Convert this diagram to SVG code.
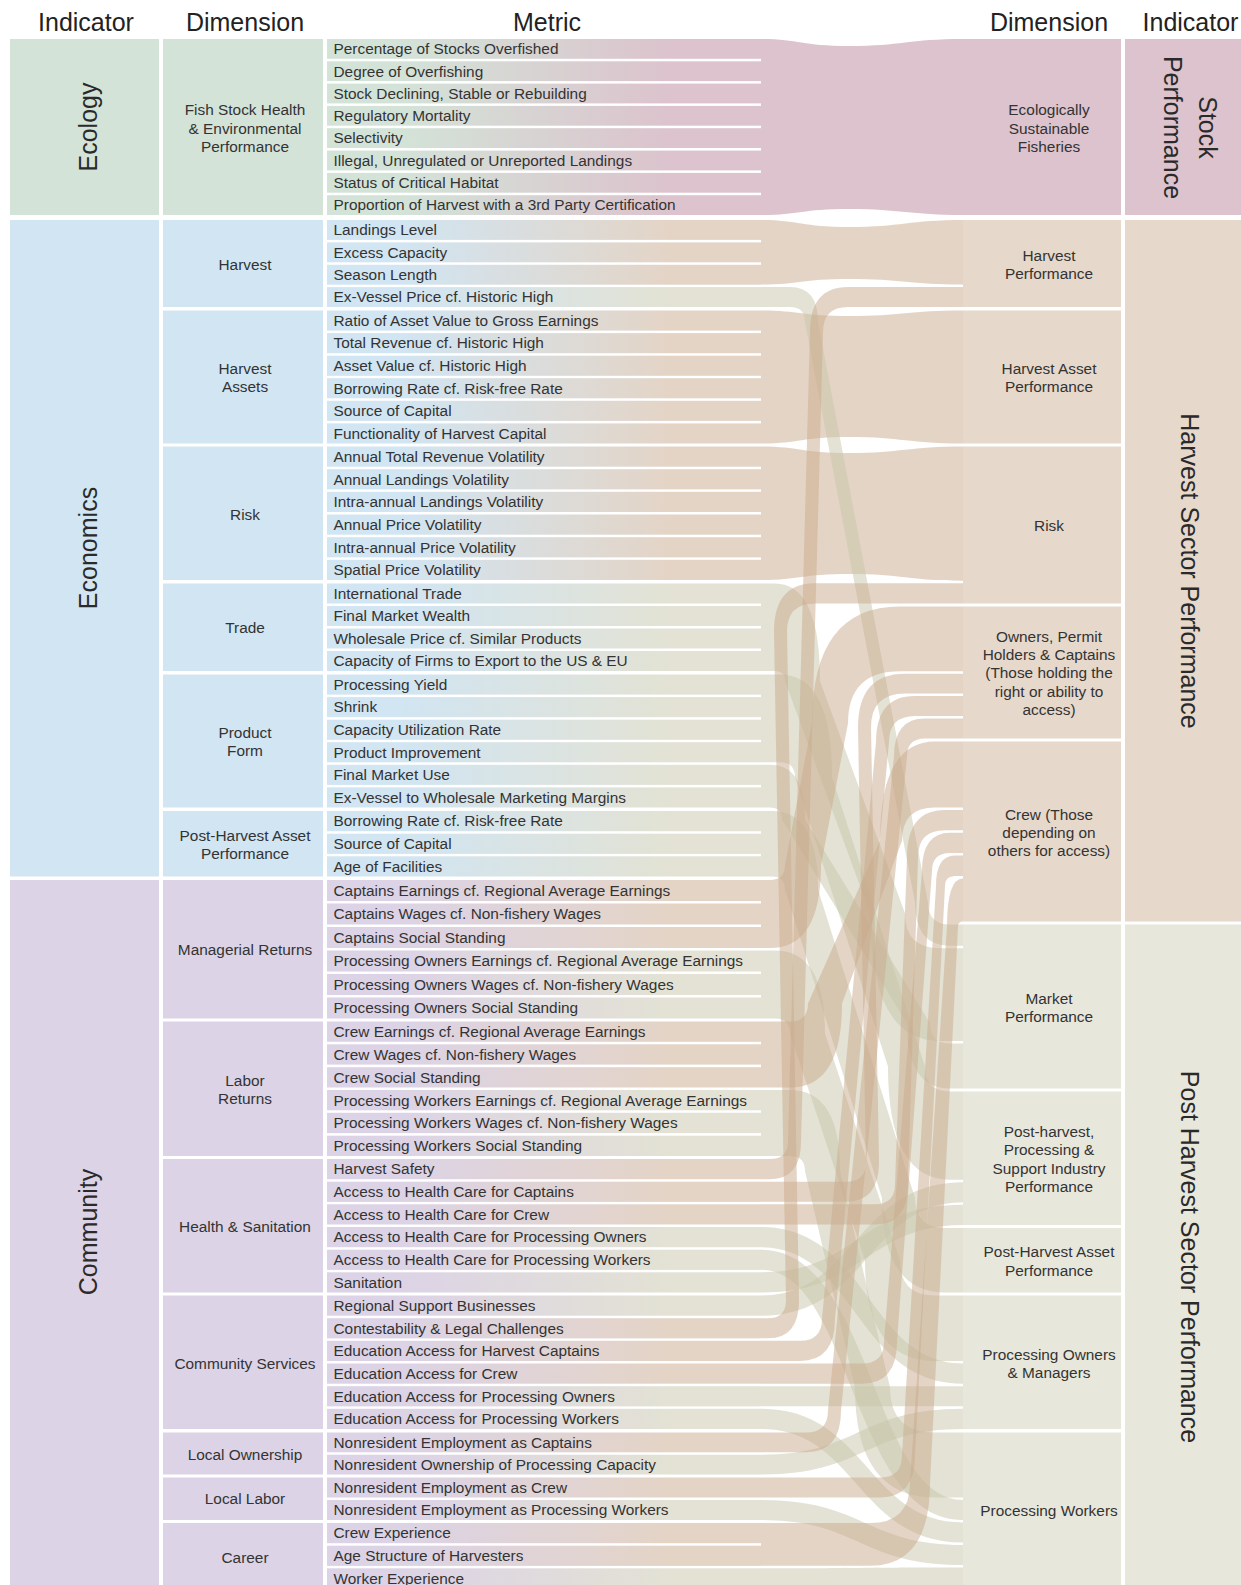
<svg xmlns="http://www.w3.org/2000/svg" width="1241" height="1585" viewBox="0 0 1241 1585">
<defs>
<linearGradient id="gEP" gradientUnits="userSpaceOnUse" x1="400" y1="0" x2="670" y2="0"><stop offset="0" stop-color="#d3e3d8"/><stop offset="1" stop-color="#dcc3cd"/></linearGradient>
<linearGradient id="gBT" gradientUnits="userSpaceOnUse" x1="400" y1="0" x2="670" y2="0"><stop offset="0" stop-color="#d1e5f2"/><stop offset="1" stop-color="#e4d4c6"/></linearGradient>
<linearGradient id="gBO" gradientUnits="userSpaceOnUse" x1="400" y1="0" x2="670" y2="0"><stop offset="0" stop-color="#d1e5f2"/><stop offset="1" stop-color="#e3e2d4"/></linearGradient>
<linearGradient id="gPT" gradientUnits="userSpaceOnUse" x1="400" y1="0" x2="670" y2="0"><stop offset="0" stop-color="#dcd3e6"/><stop offset="1" stop-color="#e4d4c6"/></linearGradient>
<linearGradient id="gPO" gradientUnits="userSpaceOnUse" x1="400" y1="0" x2="670" y2="0"><stop offset="0" stop-color="#dcd3e6"/><stop offset="1" stop-color="#e3e2d4"/></linearGradient>
</defs>
<style>
text{font-family:"Liberation Sans",Arial,sans-serif;fill:#333}
.m{font-size:15.4px}
.d{font-size:15.4px;text-anchor:middle}
.h{font-size:25px;text-anchor:middle;fill:#222}
.v{font-size:25px;text-anchor:middle;fill:#2a2a2a}
.cG{fill:#d3e3d8}.cB{fill:#d1e5f2}.cP{fill:#dcd3e6}
.cK{fill:#dcc3cd}.cT{fill:#e6d8ca}.cO{fill:#e8e7dc}
.fT{fill:#c9a98c;fill-opacity:.5}.fO{fill:#c7c5aa;fill-opacity:.5}
</style>
<rect width="1241" height="1585" fill="#fff"/>

<g id="headers">
<text class="h" x="86" y="30.5">Indicator</text>
<text class="h" x="245" y="30.5">Dimension</text>
<text class="h" x="547" y="30.5">Metric</text>
<text class="h" x="1049" y="30.5">Dimension</text>
<text class="h" x="1190.5" y="30.5">Indicator</text>
</g>

<g id="ind-ecology"><rect class="cG" x="10" y="39" width="149" height="176"/><text class="v" transform="translate(96.5,127) rotate(-90)">Ecology</text></g>
<g id="ind-economics"><rect class="cB" x="10" y="220" width="149" height="656.5"/><text class="v" transform="translate(96.5,548) rotate(-90)">Economics</text></g>
<g id="ind-community"><rect class="cP" x="10" y="880" width="149" height="710"/><text class="v" transform="translate(96.5,1232) rotate(-90)">Community</text></g>

<g id="dim-fish"><rect class="cG" x="163" y="39" width="160" height="176"/><text class="d" x="245" y="115.3">Fish Stock Health</text><text class="d" x="245" y="133.6">&amp; Environmental</text><text class="d" x="245" y="151.8">Performance</text></g>
<g id="dim-harvest"><rect class="cB" x="163" y="220" width="160" height="87"/><text class="d" x="245" y="270.1">Harvest</text></g>
<g id="dim-harvest-assets"><rect class="cB" x="163" y="310.5" width="160" height="133"/><text class="d" x="245" y="374.2">Harvest</text><text class="d" x="245" y="392.3">Assets</text></g>
<g id="dim-risk"><rect class="cB" x="163" y="446.5" width="160" height="133.5"/><text class="d" x="245" y="519.7">Risk</text></g>
<g id="dim-trade"><rect class="cB" x="163" y="583.5" width="160" height="87.5"/><text class="d" x="245" y="632.9">Trade</text></g>
<g id="dim-product-form"><rect class="cB" x="163" y="674.5" width="160" height="133"/><text class="d" x="245" y="738">Product</text><text class="d" x="245" y="756.2">Form</text></g>
<g id="dim-post-harvest-asset"><rect class="cB" x="163" y="811" width="160" height="65.5"/><text class="d" x="245" y="841.1">Post-Harvest Asset</text><text class="d" x="245" y="859.3">Performance</text></g>
<g id="dim-managerial"><rect class="cP" x="163" y="880" width="160" height="138.5"/><text class="d" x="245" y="955.3">Managerial Returns</text></g>
<g id="dim-labor"><rect class="cP" x="163" y="1021.5" width="160" height="134.5"/><text class="d" x="245" y="1085.6">Labor</text><text class="d" x="245" y="1103.8">Returns</text></g>
<g id="dim-health"><rect class="cP" x="163" y="1159" width="160" height="133.5"/><text class="d" x="245" y="1232.2">Health &amp; Sanitation</text></g>
<g id="dim-community-services"><rect class="cP" x="163" y="1295.5" width="160" height="133.5"/><text class="d" x="245" y="1368.6">Community Services</text></g>
<g id="dim-local-ownership"><rect class="cP" x="163" y="1432.5" width="160" height="42"/><text class="d" x="245" y="1459.6">Local Ownership</text></g>
<g id="dim-local-labor"><rect class="cP" x="163" y="1477.5" width="160" height="42.5"/><text class="d" x="245" y="1504">Local Labor</text></g>
<g id="dim-career"><rect class="cP" x="163" y="1523" width="160" height="70"/><text class="d" x="245" y="1563">Career</text></g>

<g id="flows">
<g id="flows-straight">
<path class="cK" d="M761 39 C800 39 800 46 850 46 C900 46 910 39 963 39 V215 C910 215 900 209 850 209 C800 209 800 215 761 215 Z"/>
<path class="fT" d="M761 220 C800 220 800 227 850 227 C900 227 910 220 963 220 V284.6 C910 284.6 900 279 850 279 C800 279 800 284.6 761 284.6 Z"/>
<path class="fT" d="M761 310.5 C800 310.5 800 316 850 316 C900 316 910 310.5 963 310.5 V443.5 C910 443.5 900 437 850 437 C800 437 800 443.5 761 443.5 Z"/>
<path class="fT" d="M761 446.5 C800 446.5 800 453 850 453 C900 453 910 446.5 963 446.5 V580.7 C910 580.7 900 574 850 574 C800 574 800 580 761 580 Z"/>
<path class="fO" d="M761 1386.2 H963 V1406.3 H761 Z"/>
<path class="fO" d="M761 1568.3 C860 1568.3 860 1567.5 963 1567.5 V1587.5 H761 Z"/>
</g>
<g id="flows-olive">
<path class="fO" d="M761 287.1 H790 Q818 287.1 818 322 L928 902.5 Q928 924.5 950 924.5 H963 V945.8 H950 Q915 945.8 915 902.5 L805 322 Q805 307 790 307 H761 Z"/>
<path class="fO" d="M761 583.5 H775 Q820 583.5 820 681 L905 913.3 Q905 948.3 940 948.3 H963 V1041 H940 Q870 1041 870 913.3 L785 681 Q785 671 775 671 H761 Z"/>
<path class="fO" d="M761 674.5 H780 Q832 674.5 832 777.3 L925 1066.5 Q925 1091.5 950 1091.5 H963 V1179.7 H950 Q888 1179.7 888 1066.5 L795 777.3 Q795 762.3 780 762.3 H761 Z"/>
<path class="fO" d="M761 764.8 H770 Q805 764.8 805 819.5 L930 1023.4 Q930 1043.4 950 1043.4 H963 V1088.5 H950 Q907 1088.5 907 1023.4 L782 819.5 Q782 807.5 770 807.5 H761 Z"/>
<path class="fO" d="M761 811 H772 Q818 811 818 889.5 L915 1198 Q915 1228 945 1228 H963 V1292.5 H945 Q882 1292.5 882 1198 L785 889.5 Q785 876.5 772 876.5 H761 Z"/>
<path class="fO" d="M761 950.5 H775 Q825 950.5 825 1033.5 L900 1260.5 Q900 1295.5 935 1295.5 H963 V1361 H935 Q865 1361 865 1260.5 L790 1033.5 Q790 1018.5 775 1018.5 H761 Z"/>
<path class="fO" d="M761 1090 H790 Q840 1090 840 1171 L890 1387.5 Q890 1432.5 935 1432.5 H963 V1497.5 H935 Q855 1497.5 855 1387.5 L805 1171 Q805 1156 790 1156 H761 Z"/>
<path class="fO" d="M761 1227 C868 1227 868 1363.5 963 1363.5 V1383.7 C856 1383.7 856 1247.2 761 1247.2 Z"/>
<path class="fO" d="M761 1249.7 C872 1249.7 872 1500 963 1500 V1520 C852 1520 852 1269.8 761 1269.8 Z"/>
<path class="fO" d="M761 1295.5 C856 1295.5 856 1182.2 963 1182.2 V1202.3 C868 1202.3 868 1315.7 761 1315.7 Z"/>
<path class="fO" d="M761 1272.3 C858 1272.3 858 1204.8 963 1204.8 V1225 C866 1225 866 1292.5 761 1292.5 Z"/>
<path class="fO" d="M761 1408.8 C867 1408.8 867 1522.5 963 1522.5 V1542.5 C857 1542.5 857 1429 761 1429 Z"/>
<path class="fO" d="M761 1454.75 C859 1454.75 859 1408.8 963 1408.8 V1429 C865 1429 865 1474.5 761 1474.5 Z"/>
<path class="fO" d="M761 1500 C865 1500 865 1545 963 1545 V1565 C859 1565 859 1520 761 1520 Z"/>
</g>
<g id="flows-tan">
<path class="fT" d="M761 1159 H770 Q788 1159 788 1141 L810 332 Q810 287.1 848 287.1 H963 V307 H848 Q823 307 823 332 L801 1141 Q801 1179.2 770 1179.2 H761 Z"/>
<path class="fT" d="M761 1318.2 H768 Q786 1318.2 786 1300.2 L774 631.5 Q774 583.2 815 583.2 H963 V603.5 H815 Q787 603.5 787 631.5 L799 1300.2 Q799 1338.3 768 1338.3 H761 Z"/>
<path class="fT" d="M761 880 H770 Q785 880 785 865 L812 723.2 Q812 606.5 900 606.5 H963 V671.2 H900 Q848 671.2 848 723.2 L821 865 Q821 948 770 948 H761 Z"/>
<path class="fT" d="M761 1021.5 H790 Q808 1021.5 808 1003.5 L880 840.4 Q880 741.5 935 741.5 H963 V807.4 H935 Q902 807.4 902 840.4 L842 1003.5 Q842 1087.5 790 1087.5 H761 Z"/>
<path class="fT" d="M761 1181.7 H846 Q866 1181.7 866 1161.7 L858 727.6 Q858 673.7 905 673.7 H963 V693.6 H905 Q871 693.6 871 727.6 L879 1161.7 Q879 1201.8 846 1201.8 H761 Z"/>
<path class="fT" d="M761 1340.8 H800 Q822 1340.8 822 1318.8 L876 742 Q876 696.1 915 696.1 H963 V716 H915 Q889 716 889 742 L835 1318.8 Q835 1361 800 1361 H761 Z"/>
<path class="fT" d="M761 1432.5 H806 Q828 1432.5 828 1410.5 L894 756.4 Q894 718.5 925 718.5 H963 V738.4 H925 Q907 738.4 907 756.4 L841 1410.5 Q841 1452.25 806 1452.25 H761 Z"/>
<path class="fT" d="M761 1204.3 H875 Q895 1204.3 895 1184.3 L907 857.2 Q907 809.9 945 809.9 H963 V830.2 H945 Q918 830.2 918 857.2 L908 1184.3 Q908 1224.5 875 1224.5 H761 Z"/>
<path class="fT" d="M761 1363.5 H862 Q884 1363.5 884 1341.5 L922 871.1 Q922 832.8 950 832.8 H963 V853.1 H950 Q932 853.1 932 871.1 L897 1341.5 Q897 1383.7 862 1383.7 H761 Z"/>
<path class="fT" d="M761 1477.5 H880 Q902 1477.5 902 1455.5 L936 885.9 Q936 855.6 955 855.6 H963 V875.9 H955 Q945 875.9 945 885.9 L915 1455.5 Q915 1497.5 880 1497.5 H761 Z"/>
<path class="fT" d="M761 1523 H870 Q910 1523 910 1483 L947 926.5 Q947 878.4 963 878.4 V921.5 Q958 921.5 958 926.5 L930 1483 Q930 1565.8 870 1565.8 H761 Z"/>
</g>
</g>

<g id="metrics">
<g id="m01"><rect x="327" y="39" width="434" height="19.8" fill="url(#gEP)"/><text class="m" x="333.5" y="54.2">Percentage of Stocks Overfished</text></g>
<g id="m02"><rect x="327" y="61.3" width="434" height="19.8" fill="url(#gEP)"/><text class="m" x="333.5" y="76.5">Degree of Overfishing</text></g>
<g id="m03"><rect x="327" y="83.6" width="434" height="19.8" fill="url(#gEP)"/><text class="m" x="333.5" y="98.8">Stock Declining, Stable or Rebuilding</text></g>
<g id="m04"><rect x="327" y="105.9" width="434" height="19.8" fill="url(#gEP)"/><text class="m" x="333.5" y="121.1">Regulatory Mortality</text></g>
<g id="m05"><rect x="327" y="128.2" width="434" height="19.8" fill="url(#gEP)"/><text class="m" x="333.5" y="143.4">Selectivity</text></g>
<g id="m06"><rect x="327" y="150.6" width="434" height="19.8" fill="url(#gEP)"/><text class="m" x="333.5" y="165.8">Illegal, Unregulated or Unreported Landings</text></g>
<g id="m07"><rect x="327" y="172.9" width="434" height="19.8" fill="url(#gEP)"/><text class="m" x="333.5" y="188.1">Status of Critical Habitat</text></g>
<g id="m08"><rect x="327" y="195.2" width="434" height="19.8" fill="url(#gEP)"/><text class="m" x="333.5" y="210.4">Proportion of Harvest with a 3rd Party Certification</text></g>
<g id="m09"><rect x="327" y="220" width="434" height="19.9" fill="url(#gBT)"/><text class="m" x="333.5" y="235.2">Landings Level</text></g>
<g id="m10"><rect x="327" y="242.4" width="434" height="19.9" fill="url(#gBT)"/><text class="m" x="333.5" y="257.6">Excess Capacity</text></g>
<g id="m11"><rect x="327" y="264.8" width="434" height="19.9" fill="url(#gBT)"/><text class="m" x="333.5" y="280">Season Length</text></g>
<g id="m12"><rect x="327" y="287.1" width="434" height="19.9" fill="url(#gBO)"/><text class="m" x="333.5" y="302.3">Ex-Vessel Price cf. Historic High</text></g>
<g id="m13"><rect x="327" y="310.5" width="434" height="20.1" fill="url(#gBT)"/><text class="m" x="333.5" y="325.8">Ratio of Asset Value to Gross Earnings</text></g>
<g id="m14"><rect x="327" y="333.1" width="434" height="20.1" fill="url(#gBT)"/><text class="m" x="333.5" y="348.4">Total Revenue cf. Historic High</text></g>
<g id="m15"><rect x="327" y="355.7" width="434" height="20.1" fill="url(#gBT)"/><text class="m" x="333.5" y="371">Asset Value cf. Historic High</text></g>
<g id="m16"><rect x="327" y="378.2" width="434" height="20.1" fill="url(#gBT)"/><text class="m" x="333.5" y="393.5">Borrowing Rate cf. Risk-free Rate</text></g>
<g id="m17"><rect x="327" y="400.8" width="434" height="20.1" fill="url(#gBT)"/><text class="m" x="333.5" y="416.1">Source of Capital</text></g>
<g id="m18"><rect x="327" y="423.4" width="434" height="20.1" fill="url(#gBT)"/><text class="m" x="333.5" y="438.7">Functionality of Harvest Capital</text></g>
<g id="m19"><rect x="327" y="446.5" width="434" height="20.2" fill="url(#gBT)"/><text class="m" x="333.5" y="461.9">Annual Total Revenue Volatility</text></g>
<g id="m20"><rect x="327" y="469.2" width="434" height="20.2" fill="url(#gBT)"/><text class="m" x="333.5" y="484.6">Annual Landings Volatility</text></g>
<g id="m21"><rect x="327" y="491.8" width="434" height="20.2" fill="url(#gBT)"/><text class="m" x="333.5" y="507.2">Intra-annual Landings Volatility</text></g>
<g id="m22"><rect x="327" y="514.5" width="434" height="20.2" fill="url(#gBT)"/><text class="m" x="333.5" y="529.9">Annual Price Volatility</text></g>
<g id="m23"><rect x="327" y="537.2" width="434" height="20.2" fill="url(#gBT)"/><text class="m" x="333.5" y="552.6">Intra-annual Price Volatility</text></g>
<g id="m24"><rect x="327" y="559.8" width="434" height="20.2" fill="url(#gBT)"/><text class="m" x="333.5" y="575.2">Spatial Price Volatility</text></g>
<g id="m25"><rect x="327" y="583.5" width="434" height="20" fill="url(#gBO)"/><text class="m" x="333.5" y="598.8">International Trade</text></g>
<g id="m26"><rect x="327" y="606" width="434" height="20" fill="url(#gBO)"/><text class="m" x="333.5" y="621.3">Final Market Wealth</text></g>
<g id="m27"><rect x="327" y="628.5" width="434" height="20" fill="url(#gBO)"/><text class="m" x="333.5" y="643.8">Wholesale Price cf. Similar Products</text></g>
<g id="m28"><rect x="327" y="651" width="434" height="20" fill="url(#gBO)"/><text class="m" x="333.5" y="666.3">Capacity of Firms to Export to the US &amp; EU</text></g>
<g id="m29"><rect x="327" y="674.5" width="434" height="20.1" fill="url(#gBO)"/><text class="m" x="333.5" y="689.8">Processing Yield</text></g>
<g id="m30"><rect x="327" y="697.1" width="434" height="20.1" fill="url(#gBO)"/><text class="m" x="333.5" y="712.4">Shrink</text></g>
<g id="m31"><rect x="327" y="719.7" width="434" height="20.1" fill="url(#gBO)"/><text class="m" x="333.5" y="735">Capacity Utilization Rate</text></g>
<g id="m32"><rect x="327" y="742.2" width="434" height="20.1" fill="url(#gBO)"/><text class="m" x="333.5" y="757.5">Product Improvement</text></g>
<g id="m33"><rect x="327" y="764.8" width="434" height="20.1" fill="url(#gBO)"/><text class="m" x="333.5" y="780.1">Final Market Use</text></g>
<g id="m34"><rect x="327" y="787.4" width="434" height="20.1" fill="url(#gBO)"/><text class="m" x="333.5" y="802.7">Ex-Vessel to Wholesale Marketing Margins</text></g>
<g id="m35"><rect x="327" y="811" width="434" height="20.2" fill="url(#gBO)"/><text class="m" x="333.5" y="826.4">Borrowing Rate cf. Risk-free Rate</text></g>
<g id="m36"><rect x="327" y="833.7" width="434" height="20.2" fill="url(#gBO)"/><text class="m" x="333.5" y="849.1">Source of Capital</text></g>
<g id="m37"><rect x="327" y="856.3" width="434" height="20.2" fill="url(#gBO)"/><text class="m" x="333.5" y="871.7">Age of Facilities</text></g>
<g id="m38"><rect x="327" y="880" width="434" height="21" fill="url(#gPT)"/><text class="m" x="333.5" y="895.8">Captains Earnings cf. Regional Average Earnings</text></g>
<g id="m39"><rect x="327" y="903.5" width="434" height="21" fill="url(#gPT)"/><text class="m" x="333.5" y="919.3">Captains Wages cf. Non-fishery Wages</text></g>
<g id="m40"><rect x="327" y="927" width="434" height="21" fill="url(#gPT)"/><text class="m" x="333.5" y="942.8">Captains Social Standing</text></g>
<g id="m41"><rect x="327" y="950.5" width="434" height="21" fill="url(#gPO)"/><text class="m" x="333.5" y="966.3">Processing Owners Earnings cf. Regional Average Earnings</text></g>
<g id="m42"><rect x="327" y="974" width="434" height="21" fill="url(#gPO)"/><text class="m" x="333.5" y="989.8">Processing Owners Wages cf. Non-fishery Wages</text></g>
<g id="m43"><rect x="327" y="997.5" width="434" height="21" fill="url(#gPO)"/><text class="m" x="333.5" y="1013.3">Processing Owners Social Standing</text></g>
<g id="m44"><rect x="327" y="1021.5" width="434" height="20.3" fill="url(#gPT)"/><text class="m" x="333.5" y="1037">Crew Earnings cf. Regional Average Earnings</text></g>
<g id="m45"><rect x="327" y="1044.3" width="434" height="20.3" fill="url(#gPT)"/><text class="m" x="333.5" y="1059.8">Crew Wages cf. Non-fishery Wages</text></g>
<g id="m46"><rect x="327" y="1067.2" width="434" height="20.3" fill="url(#gPT)"/><text class="m" x="333.5" y="1082.7">Crew Social Standing</text></g>
<g id="m47"><rect x="327" y="1090" width="434" height="20.3" fill="url(#gPO)"/><text class="m" x="333.5" y="1105.5">Processing Workers Earnings cf. Regional Average Earnings</text></g>
<g id="m48"><rect x="327" y="1112.8" width="434" height="20.3" fill="url(#gPO)"/><text class="m" x="333.5" y="1128.3">Processing Workers Wages cf. Non-fishery Wages</text></g>
<g id="m49"><rect x="327" y="1135.7" width="434" height="20.3" fill="url(#gPO)"/><text class="m" x="333.5" y="1151.2">Processing Workers Social Standing</text></g>
<g id="m50"><rect x="327" y="1159" width="434" height="20.2" fill="url(#gPT)"/><text class="m" x="333.5" y="1174.4">Harvest Safety</text></g>
<g id="m51"><rect x="327" y="1181.7" width="434" height="20.2" fill="url(#gPT)"/><text class="m" x="333.5" y="1197.1">Access to Health Care for Captains</text></g>
<g id="m52"><rect x="327" y="1204.3" width="434" height="20.2" fill="url(#gPT)"/><text class="m" x="333.5" y="1219.7">Access to Health Care for Crew</text></g>
<g id="m53"><rect x="327" y="1227" width="434" height="20.2" fill="url(#gPO)"/><text class="m" x="333.5" y="1242.4">Access to Health Care for Processing Owners</text></g>
<g id="m54"><rect x="327" y="1249.7" width="434" height="20.2" fill="url(#gPO)"/><text class="m" x="333.5" y="1265.1">Access to Health Care for Processing Workers</text></g>
<g id="m55"><rect x="327" y="1272.3" width="434" height="20.2" fill="url(#gPO)"/><text class="m" x="333.5" y="1287.7">Sanitation</text></g>
<g id="m56"><rect x="327" y="1295.5" width="434" height="20.2" fill="url(#gPO)"/><text class="m" x="333.5" y="1310.9">Regional Support Businesses</text></g>
<g id="m57"><rect x="327" y="1318.2" width="434" height="20.2" fill="url(#gPT)"/><text class="m" x="333.5" y="1333.6">Contestability &amp; Legal Challenges</text></g>
<g id="m58"><rect x="327" y="1340.8" width="434" height="20.2" fill="url(#gPT)"/><text class="m" x="333.5" y="1356.2">Education Access for Harvest Captains</text></g>
<g id="m59"><rect x="327" y="1363.5" width="434" height="20.2" fill="url(#gPT)"/><text class="m" x="333.5" y="1378.9">Education Access for Crew</text></g>
<g id="m60"><rect x="327" y="1386.2" width="434" height="20.2" fill="url(#gPO)"/><text class="m" x="333.5" y="1401.6">Education Access for Processing Owners</text></g>
<g id="m61"><rect x="327" y="1408.8" width="434" height="20.2" fill="url(#gPO)"/><text class="m" x="333.5" y="1424.2">Education Access for Processing Workers</text></g>
<g id="m62"><rect x="327" y="1432.5" width="434" height="19.8" fill="url(#gPT)"/><text class="m" x="333.5" y="1447.7">Nonresident Employment as Captains</text></g>
<g id="m63"><rect x="327" y="1454.75" width="434" height="19.8" fill="url(#gPO)"/><text class="m" x="333.5" y="1469.9">Nonresident Ownership of Processing Capacity</text></g>
<g id="m64"><rect x="327" y="1477.5" width="434" height="20" fill="url(#gPT)"/><text class="m" x="333.5" y="1492.8">Nonresident Employment as Crew</text></g>
<g id="m65"><rect x="327" y="1500" width="434" height="20" fill="url(#gPO)"/><text class="m" x="333.5" y="1515.3">Nonresident Employment as Processing Workers</text></g>
<g id="m66"><rect x="327" y="1523" width="434" height="20.2" fill="url(#gPT)"/><text class="m" x="333.5" y="1538.4">Crew Experience</text></g>
<g id="m67"><rect x="327" y="1545.7" width="434" height="20.2" fill="url(#gPT)"/><text class="m" x="333.5" y="1561.1">Age Structure of Harvesters</text></g>
<g id="m68"><rect x="327" y="1568.3" width="434" height="20.2" fill="url(#gPO)"/><text class="m" x="333.5" y="1583.7">Worker Experience</text></g>
</g>

<g id="rdim-esf"><rect class="cK" x="963" y="39" width="158" height="176"/><text class="d" x="1049" y="115.3">Ecologically</text><text class="d" x="1049" y="133.6">Sustainable</text><text class="d" x="1049" y="151.8">Fisheries</text></g>
<g id="rdim-harvest-perf"><rect class="cT" x="963" y="220" width="158" height="87"/><text class="d" x="1049" y="261">Harvest</text><text class="d" x="1049" y="279.2">Performance</text></g>
<g id="rdim-harvest-asset-perf"><rect class="cT" x="963" y="310.5" width="158" height="133"/><text class="d" x="1049" y="374.2">Harvest Asset</text><text class="d" x="1049" y="392.3">Performance</text></g>
<g id="rdim-risk"><rect class="cT" x="963" y="446.5" width="158" height="157"/><text class="d" x="1049" y="530.8">Risk</text></g>
<g id="rdim-owners"><rect class="cT" x="963" y="606.5" width="158" height="132"/><text class="d" x="1049" y="642">Owners, Permit</text><text class="d" x="1049" y="660.2">Holders &amp; Captains</text><text class="d" x="1049" y="678.3">(Those holding the</text><text class="d" x="1049" y="696.6">right or ability to</text><text class="d" x="1049" y="714.7">access)</text></g>
<g id="rdim-crew"><rect class="cT" x="963" y="741.5" width="158" height="180"/><text class="d" x="1049" y="819.8">Crew (Those</text><text class="d" x="1049" y="838">depending on</text><text class="d" x="1049" y="856.3">others for access)</text></g>
<g id="rdim-market"><rect class="cO" x="963" y="924.5" width="158" height="164"/><text class="d" x="1049" y="1003.8">Market</text><text class="d" x="1049" y="1022">Performance</text></g>
<g id="rdim-processing"><rect class="cO" x="963" y="1091.5" width="158" height="133.5"/><text class="d" x="1049" y="1137.2">Post-harvest,</text><text class="d" x="1049" y="1155.3">Processing &amp;</text><text class="d" x="1049" y="1173.6">Support Industry</text><text class="d" x="1049" y="1191.7">Performance</text></g>
<g id="rdim-post-harvest-asset"><rect class="cO" x="963" y="1228" width="158" height="64.5"/><text class="d" x="1049" y="1257.4">Post-Harvest Asset</text><text class="d" x="1049" y="1275.6">Performance</text></g>
<g id="rdim-processing-owners"><rect class="cO" x="963" y="1295.5" width="158" height="133.5"/><text class="d" x="1049" y="1359.5">Processing Owners</text><text class="d" x="1049" y="1377.7">&amp; Managers</text></g>
<g id="rdim-processing-workers"><rect class="cO" x="963" y="1432.5" width="158" height="160"/><text class="d" x="1049" y="1516.1">Processing Workers</text></g>

<g id="rind-stock"><rect class="cK" x="1125" y="39" width="116" height="176"/><text class="v" transform="translate(1199,127.5) rotate(90)"><tspan x="0" y="0">Stock</tspan><tspan x="0" y="35">Performance</tspan></text></g>
<g id="rind-harvest-sector"><rect class="cT" x="1125" y="220" width="116" height="701.5"/><text class="v" transform="translate(1181,571) rotate(90)">Harvest Sector Performance</text></g>
<g id="rind-post-harvest-sector"><rect class="cO" x="1125" y="924.5" width="116" height="665"/><text class="v" transform="translate(1181,1257) rotate(90)">Post Harvest Sector Performance</text></g>
</svg>
